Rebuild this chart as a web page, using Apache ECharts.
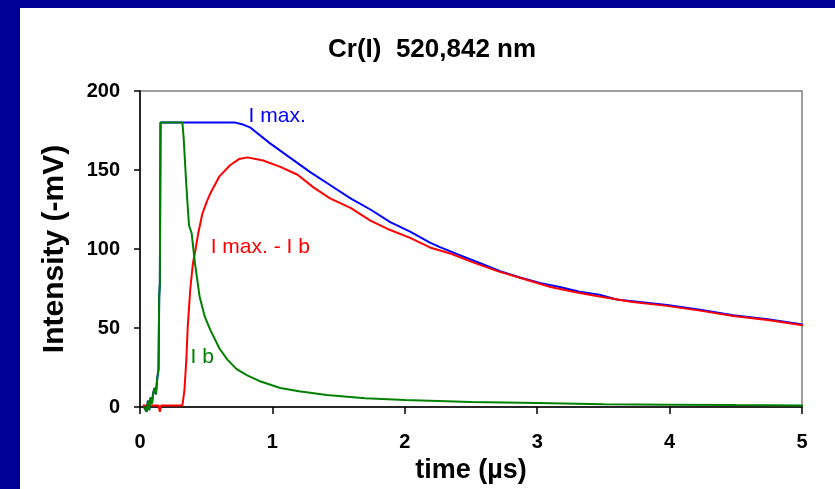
<!DOCTYPE html>
<html>
<head>
<meta charset="utf-8">
<script src="https://cdn.jsdelivr.net/npm/echarts@6/dist/echarts.min.js"></script>
<style>
  html, body { margin: 0; padding: 0; background: #000099; }
  #chart { position: absolute; left: 20px; top: 8px; width: 815px; height: 481px; background: #fff; }
</style>
</head>
<body>
<div id="chart"></div>
<script>
// time in µs, intensity in -mV
var imaxT = [0.03, 0.05, 0.06, 0.07, 0.08, 0.09, 0.10, 0.11, 0.12, 0.13, 0.14, 0.145, 0.15, 0.155, 0.72, 0.77, 0.83, 0.98, 1.13, 1.28, 1.435, 1.59, 1.74, 1.89, 2.04, 2.19, 2.27, 2.42, 2.57, 2.72, 2.87, 3.02, 3.17, 3.32, 3.47, 3.6, 3.72, 3.98, 4.23, 4.48, 4.74, 4.98, 5.05];
var imaxV = [0, -3, 4, -2, 6, 2, 9, 12, 8, 18, 24, 70, 78, 180, 180, 179, 177, 167, 158, 149, 140.5, 132, 125, 117, 111, 104, 101, 96, 91, 86, 82, 78.5, 76, 73, 71, 68, 67, 64.5, 61.5, 58, 55.5, 52.5, 51.5];

var diffT = [0.02, 0.10, 0.14, 0.15, 0.16, 0.32, 0.335, 0.35, 0.36, 0.38, 0.40, 0.42, 0.44, 0.47, 0.5, 0.53, 0.6, 0.68, 0.75, 0.81, 0.93, 1.06, 1.19, 1.31, 1.435, 1.59, 1.74, 1.89, 2.04, 2.19, 2.35, 2.5, 2.7, 2.9, 3.1, 3.3, 3.47, 3.72, 3.98, 4.23, 4.48, 4.74, 4.98, 5.05];
var diffV = [1, 1, 1, -3, 1, 1, 10, 30, 50, 75, 91, 100, 110, 122, 129, 135, 146, 153, 157, 158, 156, 152, 147, 139, 132, 126, 118, 112, 107, 101, 97, 92, 86, 81, 76, 72.5, 70, 66.5, 64, 61, 57.6, 55, 52, 51];

var ibT = [0.03, 0.05, 0.06, 0.07, 0.08, 0.09, 0.10, 0.11, 0.12, 0.13, 0.14, 0.145, 0.15, 0.155, 0.32, 0.33, 0.35, 0.37, 0.39, 0.415, 0.45, 0.49, 0.53, 0.6, 0.66, 0.73, 0.81, 0.9, 1.06, 1.2, 1.41, 1.7, 2.0, 2.5, 3.0, 3.5, 4.0, 4.5, 5.05];
var ibV = [0, -3, 4, -2, 6, 2, 9, 12, 8, 18, 24, 70, 78, 180, 180, 170, 140, 115, 110, 91, 70, 57, 49, 37, 30, 24, 20, 16.5, 12, 10, 7.6, 5.5, 4.4, 3.2, 2.5, 1.8, 1.5, 1.2, 1];

var xTicks = [0, 1, 2, 3, 4, 5];
var yTicks = [0, 50, 100, 150, 200];

var font = 'Liberation Sans, Arial, sans-serif';

function pairs(t, v) {
  return t.map(function(x, i) { return [x, v[i]]; });
}

// curve name written next to its line, anchored in data units
function tag(text, coord, color) {
  return {
    symbol: 'circle',
    symbolSize: 1,
    silent: true,
    itemStyle: { color: 'rgba(0,0,0,0)' },
    label: {
      show: true, position: 'right', distance: 0, formatter: text,
      color: color, fontSize: 21, fontFamily: font
    },
    data: [{ coord: coord }]
  };
}

var chart = echarts.init(document.getElementById('chart'));
chart.setOption({
  animation: false,
  title: {
    text: 'Cr(I)  520,842 nm',
    left: 303,
    top: 24,
    textStyle: { fontSize: 26, fontWeight: 'bold', fontFamily: font, color: '#000' }
  },
  grid: {
    left: 120, top: 83, width: 662, height: 316,
    show: true, borderColor: '#808080', borderWidth: 1.5, backgroundColor: '#fff'
  },
  xAxis: {
    type: 'value', min: xTicks[0], max: xTicks[xTicks.length - 1], interval: 1,
    name: 'time (µs)', nameLocation: 'middle', nameGap: 44,
    nameTextStyle: { fontSize: 27, fontWeight: 'bold', fontFamily: font, color: '#000' },
    axisLine: { lineStyle: { color: '#000', width: 1.5 } },
    axisTick: { show: true, length: 7, lineStyle: { color: '#000', width: 1.5 } },
    axisLabel: { margin: 25, fontSize: 20, fontWeight: 'bold', fontFamily: font, color: '#000' },
    splitLine: { show: false }
  },
  yAxis: {
    type: 'value', min: yTicks[0], max: yTicks[yTicks.length - 1], interval: 50,
    name: 'Intensity (-mV)', nameLocation: 'middle', nameGap: 70,
    nameTextStyle: { fontSize: 30, fontWeight: 'bold', fontFamily: font, color: '#000' },
    axisLine: { show: true, lineStyle: { color: '#000', width: 1.5 } },
    axisTick: { show: true, length: 6, lineStyle: { color: '#000', width: 1.5 } },
    axisLabel: { margin: 20, fontSize: 20, fontWeight: 'bold', fontFamily: font, color: '#000' },
    splitLine: { show: false }
  },
  series: [
    {
      name: 'I max.', type: 'line', data: pairs(imaxT, imaxV), showSymbol: false, clip: false,
      lineStyle: { color: '#0000ff', width: 2 }, itemStyle: { color: '#0000ff' },
      markPoint: tag('I max.', [0.816, 184], '#0000ff')
    },
    {
      name: 'I max. - I b', type: 'line', data: pairs(diffT, diffV), showSymbol: false, clip: false,
      lineStyle: { color: '#ff0000', width: 2 }, itemStyle: { color: '#ff0000' },
      markPoint: tag('I max. - I b', [0.53, 101], '#ff0000')
    },
    {
      name: 'I b', type: 'line', data: pairs(ibT, ibV), showSymbol: false, clip: false,
      lineStyle: { color: '#008000', width: 2 }, itemStyle: { color: '#008000' },
      markPoint: tag('I b', [0.378, 31.6], '#008000')
    }
  ]
});
</script>
</body>
</html>
